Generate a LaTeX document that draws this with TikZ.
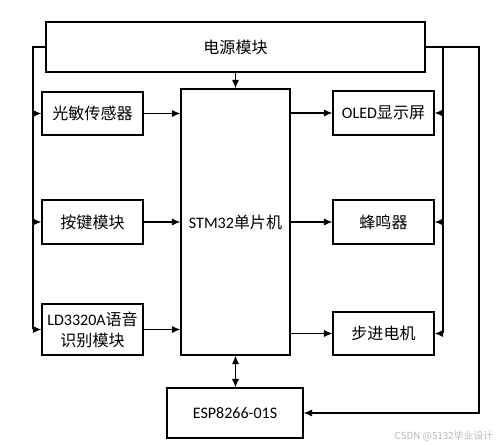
\documentclass[tikz,border=0pt]{standalone}
\usepackage{fontspec}
\setmainfont{Carlito}
\newfontfamily\cjk{Noto Sans CJK SC}
\usepackage{tikz}
\usetikzlibrary{arrows.meta,positioning}

\newcommand{\lat}[1]{{\rmfamily #1}}

\begin{document}
\begin{tikzpicture}[x=0.025cm,y=-0.025cm,
    module/.style={draw,line width=0.8pt,minimum width=101\pgflinewidth,
      align=center,inner sep=1pt,font=\cjk\fontsize{11.4}{15}\selectfont},
    link/.style={line width=0.8pt},
    >={Latex[length=6pt,width=5pt]}]
  \useasboundingbox (0,0) rectangle (500,445);
  % Power supply and controller
  \node[module,minimum width=9.475cm,minimum height=1.25cm] (power) at (235.5,47) {电源模块};
  \node[module,minimum width=2.725cm,minimum height=6.65cm] (mcu) at (235.5,222) {\lat{STM32}单片机};
  \node[module,minimum width=3.4cm,minimum height=1.25cm] (wifi) at (235,413) {\lat{ESP8266-01S}};
  % Input modules
  \node[module,minimum width=2.525cm,minimum height=1.075cm] (light) at (92.5,113.5) {光敏传感器};
  \node[module,minimum width=2.525cm,minimum height=1.1cm] (key) at (92.5,222) {按键模块};
  \node[module,minimum width=2.525cm,minimum height=1.275cm] (voice) at (92.5,329.5) {\lat{LD3320A}语音\\识别模块};
  % Output modules
  \node[module,minimum width=2.525cm,minimum height=1.1cm] (oled) at (383.5,113) {\lat{OLED}显示屏};
  \node[module,minimum width=2.525cm,minimum height=1.1cm] (buzzer) at (383.5,222) {蜂鸣器};
  \node[module,minimum width=2.525cm,minimum height=1.075cm] (motor) at (383.5,333.5) {步进电机};
  % Bus lines
  \coordinate (lbus) at (33,47);
  \coordinate (rbus) at (443,47);
  \coordinate (wbus) at (479,47);
  \draw[link] (power.west) -- (lbus) -- (lbus |- voice.west);
  \foreach \n in {light,key,voice}
    \draw[link,->] (lbus |- \n.west) -- (\n.west);
  \draw[link] (power.east) -- (rbus) -- (rbus |- motor.east);
  \foreach \n in {oled,buzzer,motor}
    \draw[link,->] (rbus |- \n.east) -- (\n.east);
  \draw[link,->] (rbus) -- (wbus) |- (wifi.east);
  % Signals
  \draw[link,->] (power.south) -- (mcu.north);
  \foreach \n in {light,key,voice}
    \draw[link,->] (\n.east) -- (\n.east -| mcu.west);
  \foreach \n in {oled,buzzer,motor}
    \draw[link,->] (\n.west -| mcu.east) -- (\n.west);
  \draw[link,<->] (mcu.south) -- (mcu.south |- wifi.north);
  % Watermark
  \node[text=gray!55,font=\cjk\fontsize{7}{8}\selectfont] (mark) at (444,436) {CSDN @5132毕业设计};
\end{tikzpicture}
\end{document}
